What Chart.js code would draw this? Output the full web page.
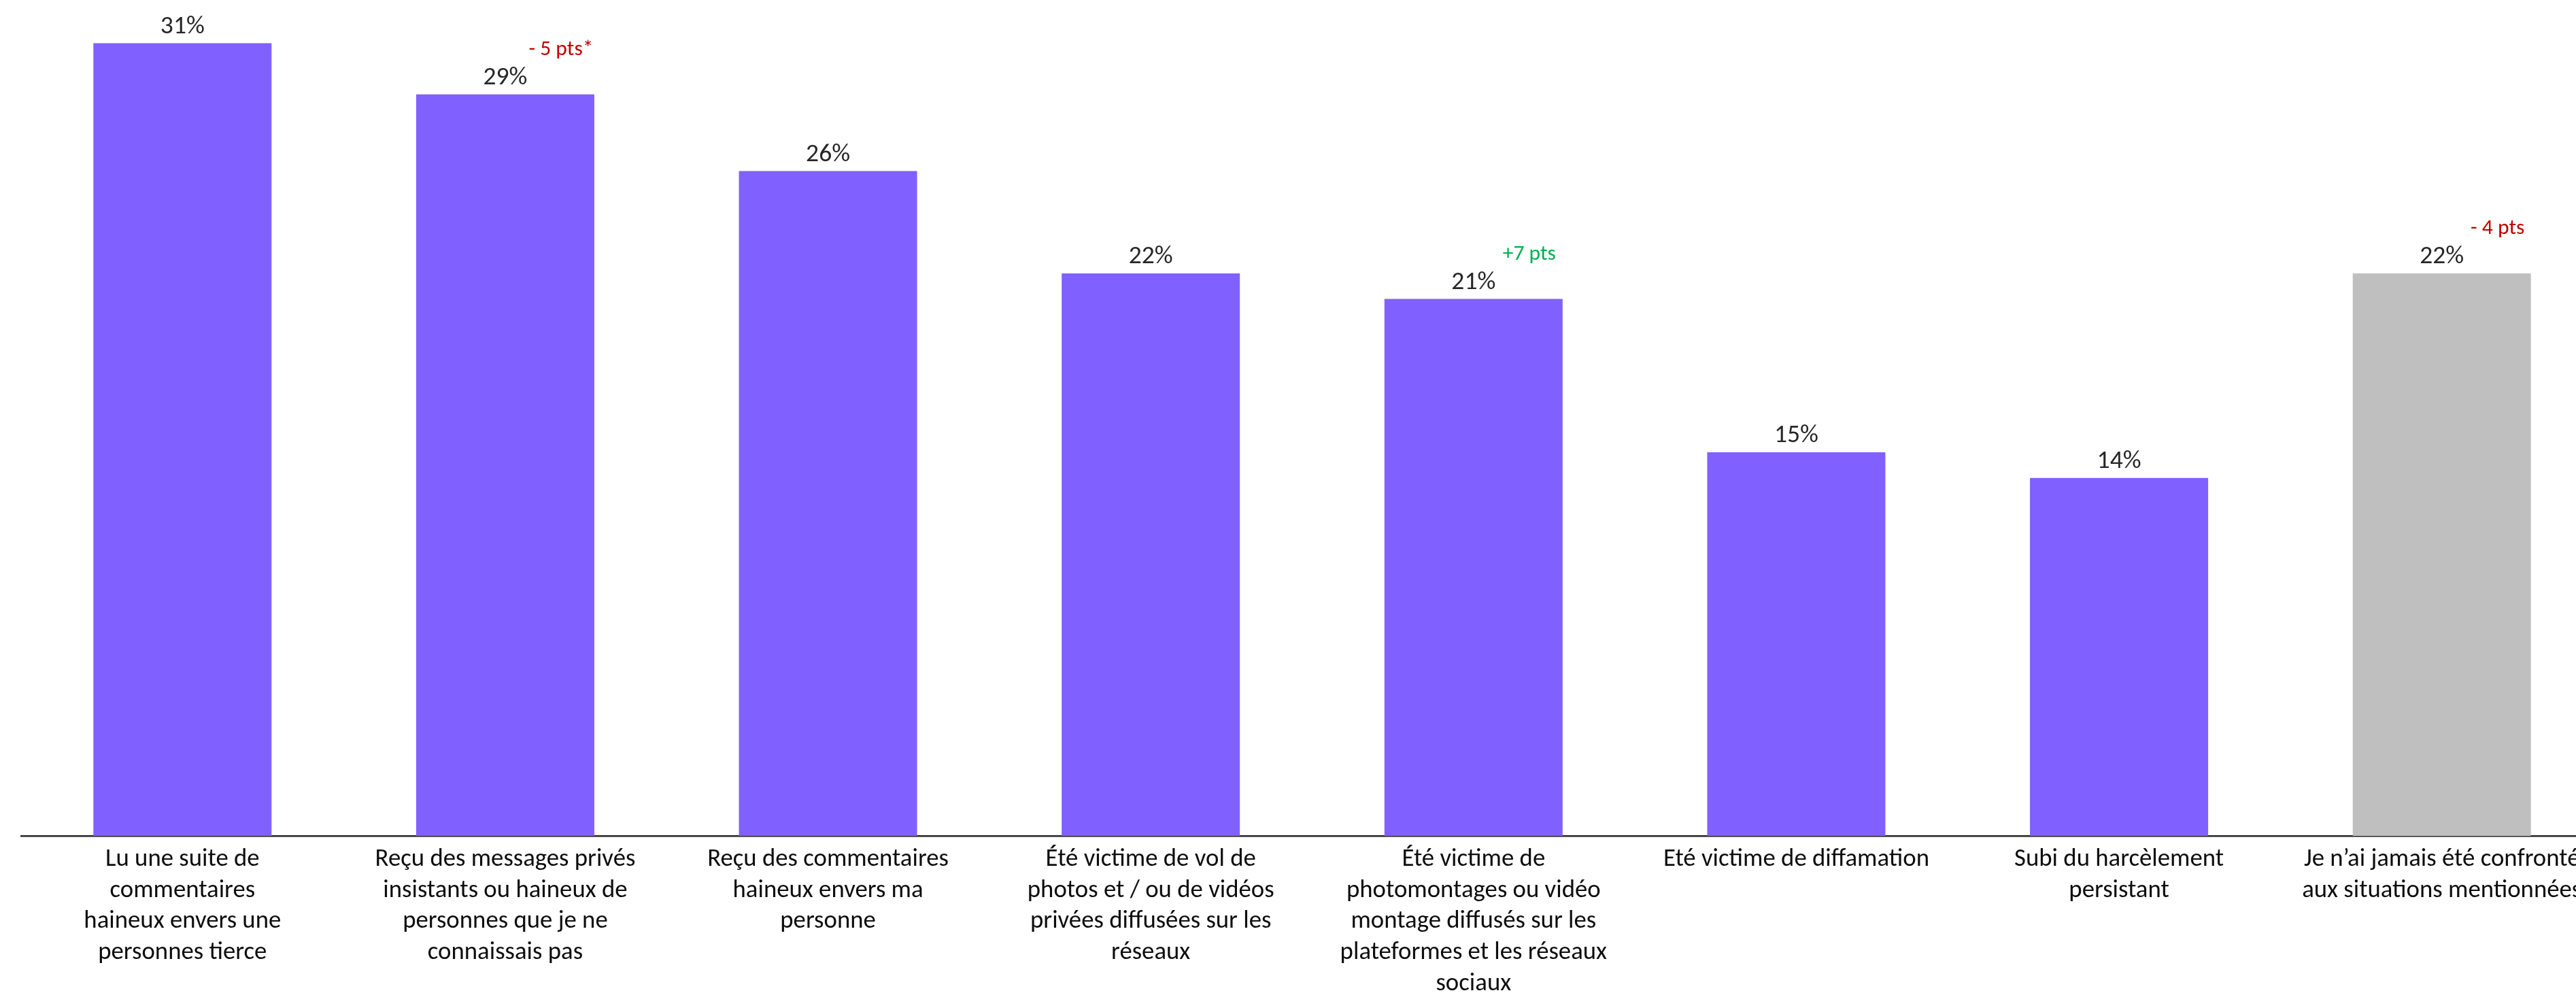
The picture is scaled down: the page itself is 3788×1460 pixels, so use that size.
<!DOCTYPE html>
<html>
<head>
<meta charset="utf-8">
<script src="https://cdn.jsdelivr.net/npm/chart.js@4.4.1/dist/chart.umd.min.js"></script>
<style>
  html, body { margin: 0; padding: 0; background: #ffffff; overflow: hidden; width: 3788px; height: 1460px; }
  #wrap { position: absolute; left: 0; top: 0; width: 3830px; height: 1480px; }
  canvas { display: block; }
</style>
</head>
<body>
<div id="wrap"><canvas id="c" width="3830" height="1480"></canvas></div>
<script>
const categories = [
  ["Lu une suite de", "commentaires", "haineux envers une", "personnes tierce"],
  ["Reçu des messages privés", "insistants ou haineux de", "personnes que je ne", "connaissais pas"],
  ["Reçu des commentaires", "haineux envers ma", "personne"],
  ["Été victime de vol de", "photos et / ou de vidéos", "privées diffusées sur les", "réseaux"],
  ["Été victime de", "photomontages ou vidéo", "montage diffusés sur les", "plateformes et les réseaux", "sociaux"],
  ["Eté victime de diffamation"],
  ["Subi du harcèlement", "persistant"],
  ["Je n’ai jamais été confronté", "aux situations mentionnées"]
];
const values = [31, 29, 26, 22, 21, 15, 14, 22];
const valueLabels = ["31%", "29%", "26%", "22%", "21%", "15%", "14%", "22%"];
const deltas = ["", "- 5 pts*", "", "", "+7 pts", "", "", "- 4 pts"];

const PURPLE = "#8061FF";
const GRAY = "#BFBFBF";
const FONT = "Carlito, Lato, 'Liberation Sans', sans-serif";

// Match the advance width of the original Calibri-like text (sample is 11.205 em wide there)
const mctx = document.createElement("canvas").getContext("2d");
mctx.font = "100px " + FONT;
const K = 1120.5 / mctx.measureText("aux situations mentionnées").width;
const TICK_SIZE = 36.7 * K;
const VALUE_SIZE = 37.5 * K;
const DELTA_SIZE = 31.5 * K;

const labelPlugin = {
  id: "barLabels",
  afterDatasetsDraw(chart) {
    const ctx = chart.ctx;
    const meta = chart.getDatasetMeta(0);
    ctx.save();
    meta.data.forEach((bar, i) => {
      ctx.textAlign = "center";
      ctx.textBaseline = "alphabetic";
      ctx.fillStyle = "#262626";
      ctx.font = VALUE_SIZE.toFixed(1) + "px " + FONT;
      ctx.fillText(valueLabels[i], bar.x, bar.y - 15);
      const d = deltas[i];
      if (d) {
        ctx.font = DELTA_SIZE.toFixed(1) + "px " + FONT;
        ctx.fillStyle = d.trim().startsWith("+") ? "#00B050" : "#C00000";
        ctx.fillText(d, bar.x + 82, bar.y - 58);
      }
    });
    ctx.restore();
  }
};

new Chart(document.getElementById("c"), {
  type: "bar",
  data: {
    labels: categories,
    datasets: [{
      data: values,
      backgroundColor: values.map((v, i) => i === values.length - 1 ? GRAY : PURPLE),
      borderWidth: 0,
      categoryPercentage: 1.0,
      barPercentage: 0.552
    }]
  },
  options: {
    responsive: false,
    animation: false,
    devicePixelRatio: 1,
    layout: { padding: { left: 31, right: 2, top: 26, bottom: 0 } },
    plugins: { legend: { display: false }, tooltip: { enabled: false } },
    scales: {
      y: { display: false, min: 0, max: 32 },
      x: {
        afterFit(scale) { scale.height = 251; },
        grid: { display: false, drawTicks: false },
        border: { display: true, color: "#262626", width: 2.5 },
        ticks: {
          autoSkip: false,
          maxRotation: 0,
          minRotation: 0,
          padding: 12,
          color: "#0D0D0D",
          font: { family: FONT, size: TICK_SIZE, lineHeight: 45.7 / TICK_SIZE }
        }
      }
    }
  },
  plugins: [labelPlugin]
});
</script>
</body>
</html>
